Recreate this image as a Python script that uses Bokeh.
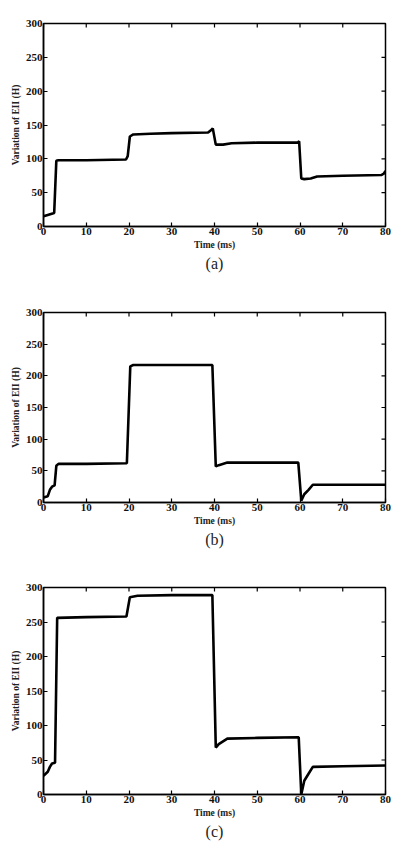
import math
from bokeh.plotting import figure
from bokeh.layouts import column
from bokeh.models import Title, FixedTicker, Range1d
from bokeh.embed import file_html
from bokeh.resources import INLINE

# Panel (a)
t_a = [0, 1, 2.5, 3.0, 3.5, 10, 19.3, 19.7, 20.2, 21, 25, 30, 38.5, 39.3, 39.6, 40.3, 42, 44, 50, 59.5, 59.8, 60.3, 61, 62.5, 64, 70, 79, 79.6, 80]
v_a = [15, 17, 20, 97, 98, 98, 99, 104, 133, 136, 137, 138, 139, 143, 145, 121, 121, 123, 124, 124, 126, 71, 70, 71, 74, 75, 76, 78, 82]

# Panel (b)
t_b = [0, 1, 1.5, 2, 2.6, 3.0, 3.5, 10, 19.5, 20.3, 21, 30, 39.5, 40.3, 41, 43, 50, 59.6, 60.3, 61, 62, 63, 70, 80]
v_b = [8, 10, 20, 25, 27, 58, 61, 61, 62, 215, 217, 217, 217, 57, 59, 63, 63, 63, 3, 13, 20, 28, 28, 28]

# Panel (c)
t_c = [0, 1, 1.5, 2, 2.7, 3.2, 10, 19.4, 20.2, 22, 30, 39.5, 40.3, 41, 43, 50, 59.7, 60.3, 61, 62, 63, 70, 80]
v_c = [27, 33, 40, 45, 46, 256, 257, 258, 286, 288, 289, 289, 68, 73, 81, 82, 83, 0, 20, 30, 40, 41, 42]

y_ticks = [0, 50, 100, 150, 200, 250, 300]
x_ticks = [0, 10, 20, 30, 40, 50, 60, 70, 80]
x_label = "Time (ms)"
y_label = "Variation of EII (H)"
captions = ["(a)", "(b)", "(c)"]

SERIF = "Liberation Serif"
X0, X1 = x_ticks[0], x_ticks[-1]
Y0, Y1 = y_ticks[0], y_ticks[-1]


def make_panel(t, v, cap, height, left, right, top, bottom):
    p = figure(width=395, height=height, output_backend="svg", toolbar_location=None,
               x_range=Range1d(X0, X1), y_range=Range1d(Y0, Y1),
               min_border_left=left, min_border_right=right,
               min_border_top=top, min_border_bottom=bottom,
               background_fill_color="white", border_fill_color="white")
    p.grid.visible = False
    p.outline_line_color = "black"
    p.outline_line_width = 1.5
    p.line(t, v, line_color="black", line_width=2.6)

    # inward ticks on the top and right edges (box style)
    p.ray(x=x_ticks, y=[Y1] * len(x_ticks), length=4, length_units="screen",
          angle=-math.pi / 2, line_color="black", line_width=1.2)
    p.ray(x=[X1] * len(y_ticks), y=y_ticks, length=4, length_units="screen",
          angle=math.pi, line_color="black", line_width=1.2)

    for ax in (p.xaxis[0], p.yaxis[0]):
        ax.major_tick_in = 4
        ax.major_tick_out = 0
        ax.minor_tick_in = 0
        ax.minor_tick_out = 0
        ax.major_tick_line_width = 1.2
        ax.axis_line_color = "black"
        ax.axis_line_width = 1.5
        ax.major_label_text_font = SERIF
        ax.major_label_text_font_style = "bold"
        ax.major_label_text_font_size = "11px"
        ax.major_label_text_color = "#111111"
        ax.axis_label_text_font = SERIF
        ax.axis_label_text_font_style = "bold"
        ax.axis_label_text_font_size = "9.5px"
        ax.axis_label_text_color = "#222222"
        ax.major_label_standoff = 1
        ax.axis_label_standoff = 2
    p.xaxis[0].ticker = FixedTicker(ticks=x_ticks)
    p.yaxis[0].ticker = FixedTicker(ticks=y_ticks)
    p.xaxis[0].axis_label = x_label
    p.yaxis[0].axis_label = y_label

    title = Title(text=cap, align="center", text_font=SERIF, text_font_style="normal",
                  text_font_size="16px", text_color="#222222", standoff=0)
    p.add_layout(title, "below")
    return p


pa = make_panel(t_a, v_a, captions[0], 280, 37, 10, 23, 54)
pb = make_panel(t_b, v_b, captions[1], 280, 43, 8, 32, 58)
pc = make_panel(t_c, v_c, captions[2], 284, 39, 7, 27, 50)

layout = column(pa, pb, pc, spacing=0)
open("out.html", "w").write(file_html(layout, INLINE))
